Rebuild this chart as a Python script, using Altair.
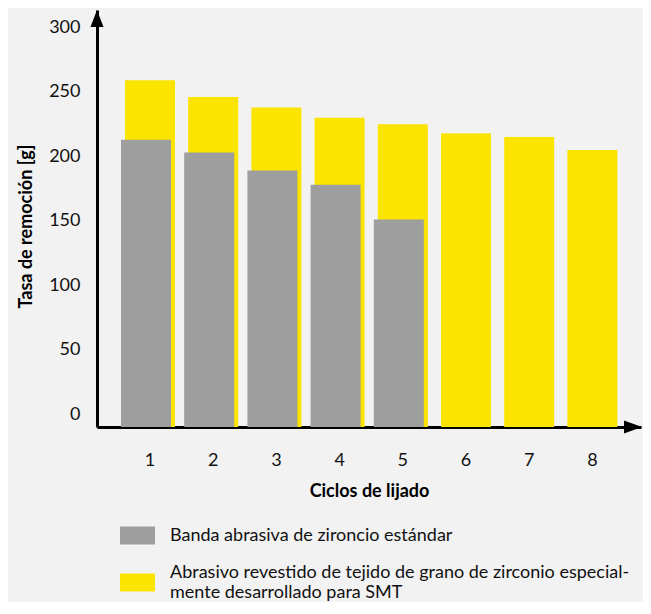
import altair as alt
import pandas as pd

ciclos = ["1", "2", "3", "4", "5", "6", "7", "8"]
smt = [259, 246, 238, 230, 225, 218, 215, 205]
estandar = [213, 203, 189, 178, 151]
serie_std = "Banda abrasiva de zironcio estándar"
serie_smt = "Abrasivo revestido de tejido de grano de zirconio especial-mente desarrollado para SMT"
smt_lineas = ["Abrasivo revestido de tejido de grano de zirconio especial-", "mente desarrollado para SMT"]
base = -10

df_smt = pd.DataFrame({"ciclo": ciclos, "valor": smt, "serie": serie_smt, "base": base})
df_std = pd.DataFrame({"ciclo": ciclos[:5], "valor": estandar, "serie": serie_std, "base": base})

FONT = "Lato"
GRAY = "#9d9e9d"
YELLOW = "#fbe500"

common_legend = dict(
    title=None,
    orient="none",
    legendX=23,
    symbolSize=1225,
    symbolStrokeWidth=0,
    symbolOpacity=1,
    labelFont=FONT,
    labelFontSize=18,
    labelColor="#111111",
    labelOffset=15,
    labelLimit=600,
)

color_std = alt.Color(
    "serie:N",
    scale=alt.Scale(domain=[serie_std], range=[GRAY]),
    legend=alt.Legend(legendY=508, symbolType="M-1,-0.514H1V0.514H-1Z", **common_legend),
)
color_smt = alt.Color(
    "serie:N",
    scale=alt.Scale(domain=[serie_smt], range=[YELLOW]),
    legend=alt.Legend(
        legendY=545,
        symbolType="M-1,0.057H1V1.085H-1Z",
        labelExpr="['" + smt_lineas[0] + "', '" + smt_lineas[1] + "']",
        **common_legend,
    ),
)

xscale = alt.Scale(paddingInner=0.209, paddingOuter=0.4085, align=0.5426)
yscale = alt.Scale(domain=[-10, 313.6], nice=False, zero=False)

x = alt.X(
    "ciclo:O",
    scale=xscale,
    title="Ciclos de lijado",
    axis=alt.Axis(
        labelAngle=0,
        ticks=False,
        labelPadding=24,
        labelFont=FONT,
        labelFontSize=18,
        labelColor="#111111",
        domainColor="#000000",
        domainWidth=3,
        titleFont=FONT,
        titleFontSize=18,
        titleFontWeight="bold",
        titlePadding=13,
        titleColor="#000000",
    ),
)
y = alt.Y(
    "valor:Q",
    scale=yscale,
    title="Tasa de remoción [g]",
    axis=alt.Axis(
        values=[0, 50, 100, 150, 200, 250, 300],
        ticks=False,
        grid=False,
        labelPadding=17,
        labelFont=FONT,
        labelFontSize=18,
        labelColor="#111111",
        domainColor="#000000",
        domainWidth=3,
        titleFont=FONT,
        titleFontSize=18,
        titleFontWeight="bold",
        titlePadding=13,
        titleY=216,
        titleColor="#000000",
    ),
)

bars_smt = alt.Chart(df_smt).mark_bar(width=50).encode(
    x=x, y=y, y2="base:Q", color=color_smt
)
bars_std = alt.Chart(df_std).mark_bar(width=50, xOffset=-4).encode(
    x=x, y=y, y2="base:Q", color=color_std
)

arrow_up = alt.Chart(pd.DataFrame({"k": [0]})).mark_point(
    shape="M0,-1L0.765,1L-0.765,1Z", filled=True, color="#000000", size=289, opacity=1
).encode(x=alt.value(0), y=alt.value(8.5))
arrow_right = alt.Chart(pd.DataFrame({"k": [0]})).mark_point(
    shape="M1,0L-1,-0.72L-1,0.72Z", filled=True, color="#000000", size=324, opacity=1
).encode(x=alt.value(536), y=alt.value(417))

chart = alt.layer(bars_smt, bars_std, arrow_up, arrow_right).resolve_scale(
    color="independent"
).properties(
    width=544,
    height=417,
    background="#f2f2f2",
    padding={"left": 89, "top": 2, "right": 2, "bottom": 175},
    autosize=alt.AutoSizeParams(type="none"),
).configure_view(stroke=None)

chart.save("out.html", embed_options={"renderer": "svg", "actions": False})
